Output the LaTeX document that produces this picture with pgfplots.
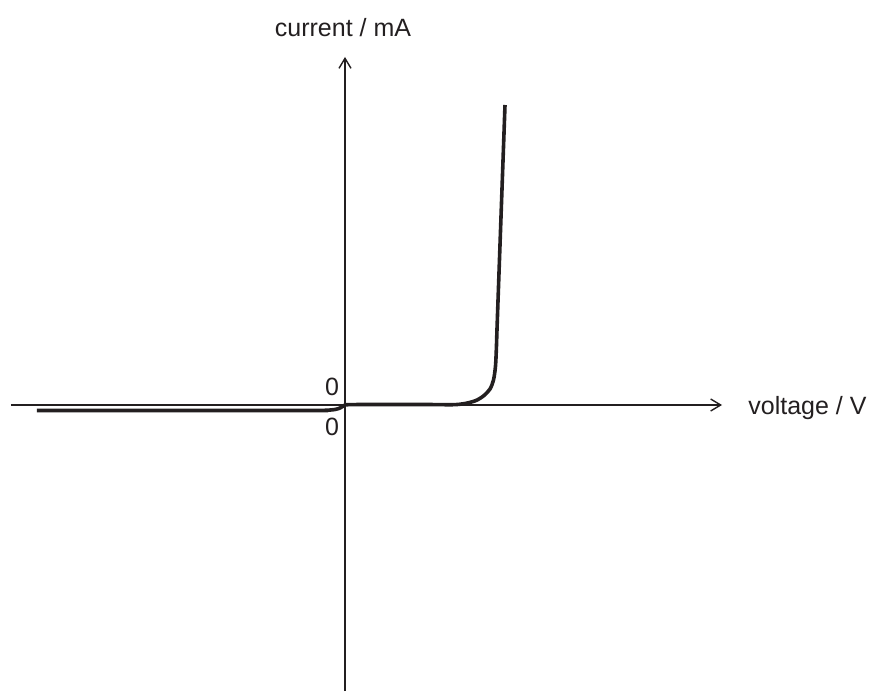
\documentclass[border=0pt]{standalone}
\usepackage{pgfplots}
\pgfplotsset{compat=1.18}
\usetikzlibrary{arrows.meta}
\usepackage{fontspec}
\setmainfont{Liberation Sans}
\definecolor{ink}{HTML}{231F20}

\begin{document}
\begin{tikzpicture}[lbl/.style={font=\fontsize{12.5}{14}\selectfont, text=ink}]
\begin{axis}[
  x=0.5pt, y=0.5pt,
  axis lines=middle,
  xmin=-334, xmax=377, ymin=-286, ymax=348,
  xtick=\empty, ytick=\empty,
  axis line style={draw=ink, line width=0.7pt, -{Straight Barb[length=5pt,width=6pt]}},
  clip=false,
]
% diode characteristic: tiny reverse current, sharp rise after the knee
\addplot[ink, line width=1.8pt, smooth, tension=0.5] coordinates {
  (-308,-5.5) (-40,-5.5) (-20,-5.3) (-10,-4.5) (-5,-3) (-2,-1.2) (0,0)
  (3,0.3) (20,0.5) (80,0.5) (108,0.3) (120,1.5) (131,4.5) (139,9.5)
  (145,16) (148.5,25) (150.5,39) (151.5,60) (152.5,90) (160,300)
};
\node[lbl, anchor=center] at (axis cs:-13,18) {0};
\node[lbl, anchor=center] at (axis cs:-13,-22) {0};
\node[lbl, anchor=center] at (axis cs:-2,377) {current / mA};
\node[lbl, anchor=west, inner sep=0pt] at (axis cs:403,-3) {voltage / V};
\coordinate (bbll) at (axis cs:-345,-286);
\coordinate (bbur) at (axis cs:528,405);
\end{axis}
\pgfresetboundingbox
\path (bbll) rectangle (bbur);
\end{tikzpicture}
\end{document}
